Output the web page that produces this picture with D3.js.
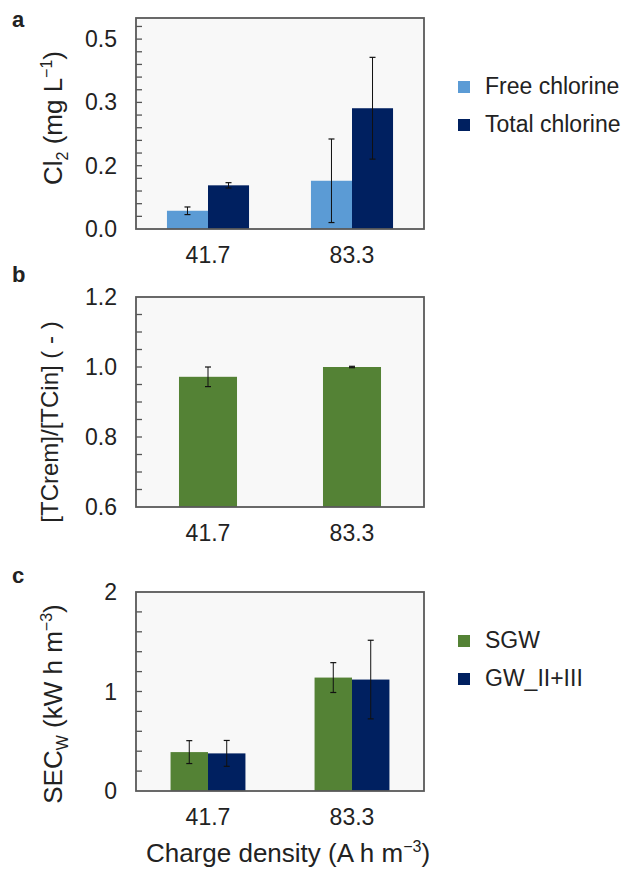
<!DOCTYPE html>
<html>
<head>
<meta charset="utf-8">
<script src="https://cdn.jsdelivr.net/npm/d3@7"></script>
<style>
body { margin: 0; background: #fff; }
text { font-family: "Liberation Sans", Arial, sans-serif; fill: #222; }
</style>
</head>
<body>
<script>
var width = 621, height = 870;

// data
var categories = ["41.7", "83.3"];

var aSeries = ["Free chlorine", "Total chlorine"];
var aValues = [[0.048, 0.127], [0.115, 0.318]];
var aErrors = [[0.010, 0.110], [0.007, 0.134]];
var aTickValues = [0, 1 / 6, 2 / 6, 3 / 6];
var aTickLabels = ["0.0", "0.2", "0.3", "0.5"];

var bValues = [0.972, 1.0];
var bErrors = [0.028, 0.002];
var bTickValues = [0.6, 0.8, 1.0, 1.2];
var bTickLabels = ["0.6", "0.8", "1.0", "1.2"];

var cSeries = ["SGW", "GW_II+III"];
var cValues = [[0.391, 1.14], [0.378, 1.12]];
var cErrors = [[0.115, 0.15], [0.13, 0.395]];
var cTickValues = [0, 1, 2];
var cTickLabels = ["0", "1", "2"];

var lightBlue = "#5b9bd5", navy = "#002060", green = "#548235";

var svg = d3.select("body").append("svg").attr("width", width).attr("height", height);

var left = 136, right = 424;

function panel(opts) {
    var g = svg.append("g");
    var y = d3.scaleLinear().domain(opts.domain).range([opts.bottom, opts.top]);
    var x = d3.scaleBand().domain(categories).range([left, right])
        .paddingInner(opts.pad).paddingOuter(opts.pad / 2);

    g.append("rect").attr("x", left).attr("y", opts.top)
        .attr("width", right - left).attr("height", opts.bottom - opts.top)
        .attr("fill", "#f8f8f8");

    // minor ticks inside the box
    var minor = d3.range(opts.domain[0] + opts.minor, opts.domain[1] - opts.minor / 2, opts.minor);
    g.selectAll(".minor").data(minor).enter().append("line")
        .attr("x1", left).attr("x2", left + 6)
        .attr("y1", function(d) { return y(d); }).attr("y2", function(d) { return y(d); })
        .attr("stroke", "#555").attr("stroke-width", 1.3);

    var nSeries = opts.values.length;
    var sub = d3.scaleBand().domain(d3.range(nSeries)).range([0, x.bandwidth()]);

    opts.values.forEach(function(vals, s) {
        var bars = g.append("g");
        bars.selectAll("rect").data(vals).enter().append("rect")
            .attr("x", function(d, i) { return x(categories[i]) + sub(s); })
            .attr("width", sub.bandwidth())
            .attr("y", function(d) { return y(d); })
            .attr("height", function(d) { return opts.bottom - y(d); })
            .attr("fill", opts.colors[s]);
    });
    opts.values.forEach(function(vals, s) {
        vals.forEach(function(v, i) {
            var cx = x(categories[i]) + sub(s) + sub.bandwidth() / 2;
            var e = opts.errors[s][i];
            var y1 = y(v + e), y2 = y(Math.max(opts.domain[0], v - e));
            g.append("line").attr("x1", cx).attr("x2", cx).attr("y1", y1).attr("y2", y2)
                .attr("stroke", "#111").attr("stroke-width", 1);
            [y1, y2].forEach(function(yy) {
                g.append("line").attr("x1", cx - 3).attr("x2", cx + 3).attr("y1", yy).attr("y2", yy)
                    .attr("stroke", "#111").attr("stroke-width", 1.2);
            });
        });
    });

    // box border
    g.append("rect").attr("x", left).attr("y", opts.top)
        .attr("width", right - left).attr("height", opts.bottom - opts.top)
        .attr("fill", "none").attr("stroke", "#595959").attr("stroke-width", 1.8);

    // y tick labels
    g.selectAll(".ytl").data(opts.tickValues).enter().append("text")
        .attr("x", 117).attr("y", function(d) { return y(d) + 8; })
        .attr("text-anchor", "end").attr("font-size", 23)
        .text(function(d, i) { return opts.tickLabels[i]; });

    // x tick labels
    g.selectAll(".xtl").data(categories).enter().append("text")
        .attr("x", function(d) { return x(d) + x.bandwidth() / 2; })
        .attr("y", opts.bottom + 34).attr("text-anchor", "middle").attr("font-size", 23)
        .text(function(d) { return d; });

    // panel letter
    g.append("text").attr("x", 12).attr("y", opts.letterY).attr("font-size", 22)
        .attr("font-weight", "bold").attr("fill", "#111").text(opts.letter);

    // y title
    var t = g.append("text").attr("text-anchor", "middle").attr("font-size", opts.titleSize)
        .attr("transform", "translate(" + opts.titleX + "," + opts.titleY + ") rotate(-90)");
    opts.title(t);

    // legend
    if (opts.legend) {
        opts.legend.forEach(function(name, i) {
            var ly = opts.legendY + i * 38;
            g.append("rect").attr("x", 458).attr("y", ly - 13).attr("width", 12).attr("height", 12)
                .attr("fill", opts.colors[i]);
            g.append("text").attr("x", 485).attr("y", ly).attr("font-size", 23).text(name);
        });
    }
}

panel({
    top: 18, bottom: 229, domain: [0, 0.5556], minor: 1 / 30, pad: 0.43,
    values: aValues, errors: aErrors, colors: [lightBlue, navy],
    tickValues: aTickValues, tickLabels: aTickLabels,
    letter: "a", letterY: 27, titleX: 62, titleY: 118, titleSize: 26,
    legend: aSeries, legendY: 94,
    title: function(t) {
        t.append("tspan").text("Cl");
        t.append("tspan").attr("font-size", 16).attr("dy", 6).text("2");
        t.append("tspan").attr("dy", -6).text(" (mg L");
        t.append("tspan").attr("font-size", 16).attr("dy", -10).text("\u22121");
        t.append("tspan").attr("dy", 10).text(")");
    }
});

panel({
    top: 297, bottom: 507, domain: [0.6, 1.2], minor: 0.05, pad: 0.597,
    values: [bValues], errors: [bErrors], colors: [green],
    tickValues: bTickValues, tickLabels: bTickLabels,
    letter: "b", letterY: 282, titleX: 58, titleY: 422, titleSize: 24,
    title: function(t) { t.text("[TCrem]/[TCin] ( - )"); }
});

panel({
    top: 592, bottom: 791, domain: [0, 2], minor: 0.2, pad: 0.48,
    values: cValues, errors: cErrors, colors: [green, navy],
    tickValues: cTickValues, tickLabels: cTickLabels,
    letter: "c", letterY: 583, titleX: 62, titleY: 704, titleSize: 26,
    legend: cSeries, legendY: 648,
    title: function(t) {
        t.append("tspan").text("SEC");
        t.append("tspan").attr("font-size", 16).attr("dy", 6).text("W");
        t.append("tspan").attr("dy", -6).text(" (kW h m");
        t.append("tspan").attr("font-size", 16).attr("dy", -10).text("\u22123");
        t.append("tspan").attr("dy", 10).text(")");
    }
});

// shared x title
var xt = svg.append("text").attr("x", 288).attr("y", 862).attr("text-anchor", "middle").attr("font-size", 26);
xt.append("tspan").text("Charge density (A h m");
xt.append("tspan").attr("font-size", 16).attr("dy", -10).text("\u22123");
xt.append("tspan").attr("dy", 10).text(")");
</script>
</body>
</html>
